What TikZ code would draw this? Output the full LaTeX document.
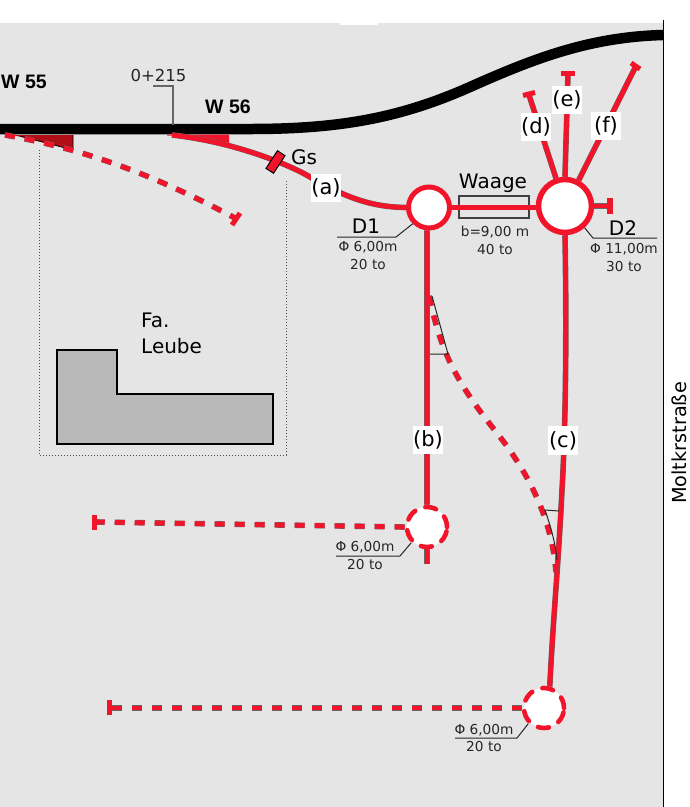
\documentclass[tikz,border=0pt]{standalone}
\usepackage{fontspec}
\setmainfont{DejaVu Sans}
\newfontfamily\boldsans{Liberation Sans}
\definecolor{bg}{HTML}{E5E5E5}
\definecolor{trk}{HTML}{F2142A}
\definecolor{dkred}{HTML}{B00F18}
\definecolor{bld}{HTML}{B9B9B9}
\tikzset{
 redline/.style={draw=trk,line width=4.8pt,preaction={draw=black!60,line width=5.6pt}},
 reddash/.style={draw=trk,line width=4.8pt,dash pattern=on 10pt off 10pt,preaction={draw=black!60,line width=5.6pt,dash pattern=on 10pt off 10pt}},
 tbar/.style={draw=trk,line width=5pt},
 disc/.style={circle,fill=white,draw=trk,inner sep=0pt},
 lbl/.style={fill=white,inner sep=0pt,minimum width=30pt,minimum height=28.5pt,font=\fontsize{21}{21}\selectfont},
 big/.style={font=\fontsize{20}{20}\selectfont,inner sep=0pt},
 small/.style={font=\fontsize{13.7}{13.7}\selectfont,inner sep=0pt,text=black!85},
 wname/.style={font=\boldsans\bfseries\fontsize{19.5}{19.5}\selectfont,inner sep=0pt},
 thin/.style={draw=black!85,line width=1pt},
}
\begin{document}
\begin{tikzpicture}[x=1pt,y=-1pt]
\useasboundingbox (0,0) rectangle (690,807);
\fill[white] (0,0) rectangle (690,807);
\fill[bg] (0,23) rectangle (663,807);
\fill[white] (340,23) rectangle (378,25);
\draw[black,line width=1pt] (663,20) -- (663,807);
% coordinates
\coordinate (aStart) at (172,135);
\coordinate (gs) at (275.5,162);
\coordinate (w55s) at (5,135);
\coordinate (w55e) at (235,218);
\coordinate (dEnd) at (529,95);
\coordinate (eEnd) at (568,73);
\coordinate (fEnd) at (636,66);
\coordinate (rEnd) at (610,206);
\coordinate (bLow) at (427,564);
\coordinate (bLeft) at (96,522);
\coordinate (cLeft) at (110,708);
\coordinate (dashS) at (429,296);
\coordinate (dashE) at (556,572);
% dotted site
\draw[black!70,line width=1pt,dash pattern=on 1pt off 2pt] (39,150) -- (39,455) -- (286,455) -- (286,180);
% building
\draw[fill=bld,draw=black,line width=2pt] (57,350) -- (117,350) -- (117,394) -- (273,394) -- (273,444) -- (57,444) -- cycle;
\node[big,anchor=west] (fa) at (141,320) {Fa.};
\node[big,anchor=west] (leube) at (141,346) {Leube};
% main track
\draw[black,line width=10.5pt] (0,129) -- (250,129) .. controls (340,129) and (400,118) .. (470,87) .. controls (535,58) and (590,37) .. (663,35);
% discs
\node[disc,line width=5pt,minimum size=41pt] (dOne) at (429,207.5) {};
\node[disc,line width=5.5pt,minimum size=53pt] (dTwo) at (565,206) {};
\node[disc,line width=4.6pt,dash pattern=on 11pt off 11pt,line cap=round,minimum size=40pt] (dThree) at (427,527) {};
\node[disc,line width=4.6pt,dash pattern=on 11pt off 11pt,line cap=round,minimum size=40pt] (dFour) at (544,708) {};
% weighbridge
\node[draw=black!75,line width=1.3pt,minimum width=70pt,minimum height=22pt,inner sep=0pt] (waageBox) at (494,207) {};
% wedges
\fill[dkred] (13,135) -- (73,135) -- (73,150) -- cycle;
\draw[black,line width=0.7pt] (20,136) -- (73,150) -- (73,135);
\fill[trk] (167,134.5) -- (229,134.5) -- (229,145) .. controls (210,140) and (190,136) .. (167,135.5) -- cycle;
% connectors
\draw[redline] (aStart) .. controls (235,142) and (290,165) .. (310,177) .. controls (345,197) and (370,207) .. (dOne.west);
\draw[redline] (dOne.east) -- (dOne.east -| dTwo.west);
\draw[redline] (dOne.265) -- (dThree.north);
\draw[redline] (dTwo.south) .. controls (567,350) and (565,440) .. (562,490) .. controls (558,570) and (553,620) .. (dFour.75);
\draw[redline] (dTwo.108) -- (dEnd);
\draw[redline] (dTwo.90) -- (eEnd);
\draw[redline] (dTwo.62) -- (fEnd);
\draw[redline] (dTwo.east) -- (rEnd);
\draw[redline] (dThree.south) -- (bLow);
\draw[reddash] (dThree.west) -- (bLeft);
\draw[reddash] (dFour.west) -- (cLeft);
\draw[reddash] (w55s) .. controls (90,150) and (160,178) .. (w55e);
\draw[reddash] (dashS) .. controls (440,345) and (450,375) .. (497,433) .. controls (530,475) and (552,520) .. (dashE);
% T-bars
\draw[tbar] (523,95.5) -- (535,92.5);
\draw[tbar] (561,73) -- (575,73);
\draw[tbar] (631,63) -- (640,69);
\draw[draw=trk,line width=5.5pt] (610,198) -- (610,214);
\draw[tbar] (94,515) -- (94,530);
\draw[tbar] (109,700) -- (109,715);
\draw[tbar] (240,213) -- (232,225);
% guard rail mark
\node[draw=black,fill=trk,line width=1pt,minimum width=9pt,minimum height=21pt,inner sep=0pt,rotate=-33] (gsBox) at (gs) {};
% thin leader lines
\coordinate (km) at (173,125);
\draw[draw=black!60,line width=1.2pt] (153,86) -- (173,86) -- (km);
\draw[thin] (337,237) -- (396,237) -- (dOne.225);
\draw[thin] (dTwo.-48) -- (593,238) -- (657,238);
\draw[thin] (336,556) -- (400,556) -- (dThree.225);
\draw[thin] (455,738) -- (517,738) -- (dFour.225);
\draw[thin] (432,296) -- (448,354) -- (430,354);
\draw[thin] (557,560) .. controls (555,540) and (550,525) .. (545,510) -- (559,511);
% labels on tracks
\node[lbl] (la) at (326,188) {(a)};
\node[lbl] (lb) at (428,440) {(b)};
\node[lbl] (lc) at (563,440.5) {(c)};
\node[lbl] (ld) at (536,127) {(d)};
\node[lbl] (le) at (567,100) {(e)};
\node[lbl] (lf) at (606,126) {(f)};
% texts
\node[wname,anchor=west] (w55) at (1,82) {W 55};
\node[wname,anchor=west] (w56) at (205,107) {W 56};
\node[font=\fontsize{16.5}{16.5}\selectfont,inner sep=0pt,text=black!85] (kmT) at (158.5,75) {0+215};
\node[big] (gsT) at (304,157) {Gs};
\node[big] (waageT) at (493,183) {Waage};
\node[small] (wb) at (495,232) {b=9,00 m};
\node[small] (wt) at (495,250) {40 to};
\node[big] (d1T) at (366,226) {D1};
\node[small] (d1a) at (368,247) {Φ 6,00m};
\node[small] (d1b) at (368,265) {20 to};
\node[big] (d2T) at (623,228) {D2};
\node[small] (d2a) at (624,249) {Φ 11,00m};
\node[small] (d2b) at (624,267) {30 to};
\node[small] (d3a) at (365,547) {Φ 6,00m};
\node[small] (d3b) at (365,565) {20 to};
\node[small] (d4a) at (484,730) {Φ 6,00m};
\node[small] (d4b) at (484,747) {20 to};
\node[font=\fontsize{19.3}{19.3}\selectfont,inner sep=0pt,rotate=90,anchor=base] (mk) at (686,443) {Moltkrstraße};
\end{tikzpicture}
\end{document}
